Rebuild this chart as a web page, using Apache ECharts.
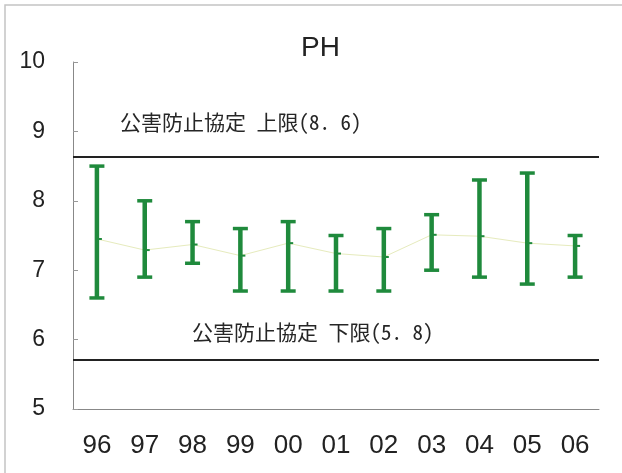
<!DOCTYPE html>
<html>
<head>
<meta charset="utf-8">
<script src="https://cdn.jsdelivr.net/npm/echarts@6/dist/echarts.min.js"></script>
<style>
html,body{margin:0;padding:0;background:#fff;}
#c{width:622px;height:473px;}
</style>
</head>
<body>
<div id="c"></div>
<script>
const categories = ['96','97','98','99','00','01','02','03','04','05','06'];
const highs = [8.5, 8.0, 7.7, 7.6, 7.7, 7.5, 7.6, 7.8, 8.3, 8.4, 7.5];
const lows  = [6.6, 6.9, 7.1, 6.7, 6.7, 6.7, 6.7, 7.0, 6.9, 6.8, 6.9];
const means = [7.45, 7.29, 7.37, 7.21, 7.39, 7.24, 7.19, 7.51, 7.49, 7.39, 7.35];
const upperLimit = 8.63;
const lowerLimit = 5.71;
const upperLabel = '公害防止協定 上限(8. 6)';
const lowerLabel = '公害防止協定 下限(5. 8)';
const yMin = 5, yMax = 10, yInterval = 1;

const green = '#1f8a3c';
const chart = echarts.init(document.getElementById('c'));

const barData = categories.map((c, i) => [i, lows[i], highs[i], means[i]]);

const labelFont = {fontFamily: "'Noto Sans Mono CJK JP', 'Noto Sans CJK JP'", fontSize: 21, color: '#262626'};

chart.setOption({
  backgroundColor: '#fff',
  animation: false,
  title: {
    text: 'PH',
    left: 296,
    top: 29,
    textStyle: {fontFamily: 'Liberation Sans', fontSize: 28, fontWeight: 'normal', color: '#222'}
  },
  graphic: [
    {type: 'polyline', silent: true, shape: {points: [[5, 473], [5, 5], [622, 5]]}, style: {stroke: '#c4c4c4', lineWidth: 1.5, fill: null}}
  ],
  grid: {left: 73, right: 23, top: 62, bottom: 64},
  xAxis: {
    type: 'category',
    data: categories,
    boundaryGap: true,
    axisLine: {lineStyle: {color: '#888', width: 1}},
    axisTick: {inside: true, length: 7, lineStyle: {color: '#888'}},
    axisLabel: {margin: 24, fontFamily: 'Liberation Sans', fontSize: 26, color: '#222'},
    splitLine: {show: false}
  },
  yAxis: {
    type: 'value',
    min: yMin, max: yMax, interval: yInterval,
    axisLine: {show: true, lineStyle: {color: '#888', width: 1}},
    axisTick: {show: true, inside: true, length: 5, lineStyle: {color: '#999'}},
    axisLabel: {margin: 28, fontFamily: 'Liberation Sans', fontSize: 23, color: '#222'},
    splitLine: {show: false}
  },
  series: [
    {
      type: 'line',
      data: means,
      symbol: 'none',
      z: 1,
      lineStyle: {color: '#e6ebbd', width: 1},
      markLine: {
        silent: true,
        symbol: 'none',
        lineStyle: {color: '#222', width: 2, type: 'solid'},
        label: labelFont,
        data: [
          {yAxis: upperLimit, label: {show: true, position: 'insideStartTop', distance: 0, padding: [0, 0, 25, 47], formatter: upperLabel}},
          {yAxis: lowerLimit, label: {show: true, position: 'insideStartTop', distance: 0, padding: [0, 0, 17, 119], formatter: lowerLabel}}
        ]
      }
    },
    {
      type: 'custom',
      z: 3,
      data: barData,
      renderItem: function (params, api) {
        const x = api.value(0);
        const lo = api.coord([x, api.value(1)]);
        const hi = api.coord([x, api.value(2)]);
        const m = api.coord([x, api.value(3)]);
        const cap = 7.5;
        return {
          type: 'group',
          children: [
            {type: 'line', shape: {x1: hi[0], y1: hi[1], x2: lo[0], y2: lo[1]}, style: {stroke: green, lineWidth: 4.5}},
            {type: 'line', shape: {x1: hi[0] - cap, y1: hi[1], x2: hi[0] + cap, y2: hi[1]}, style: {stroke: green, lineWidth: 3.5}},
            {type: 'line', shape: {x1: lo[0] - cap, y1: lo[1], x2: lo[0] + cap, y2: lo[1]}, style: {stroke: green, lineWidth: 3.5}},
            {type: 'line', shape: {x1: m[0], y1: m[1], x2: m[0] + 5, y2: m[1]}, style: {stroke: green, lineWidth: 2}}
          ]
        };
      }
    }
  ]
});
</script>
</body>
</html>
